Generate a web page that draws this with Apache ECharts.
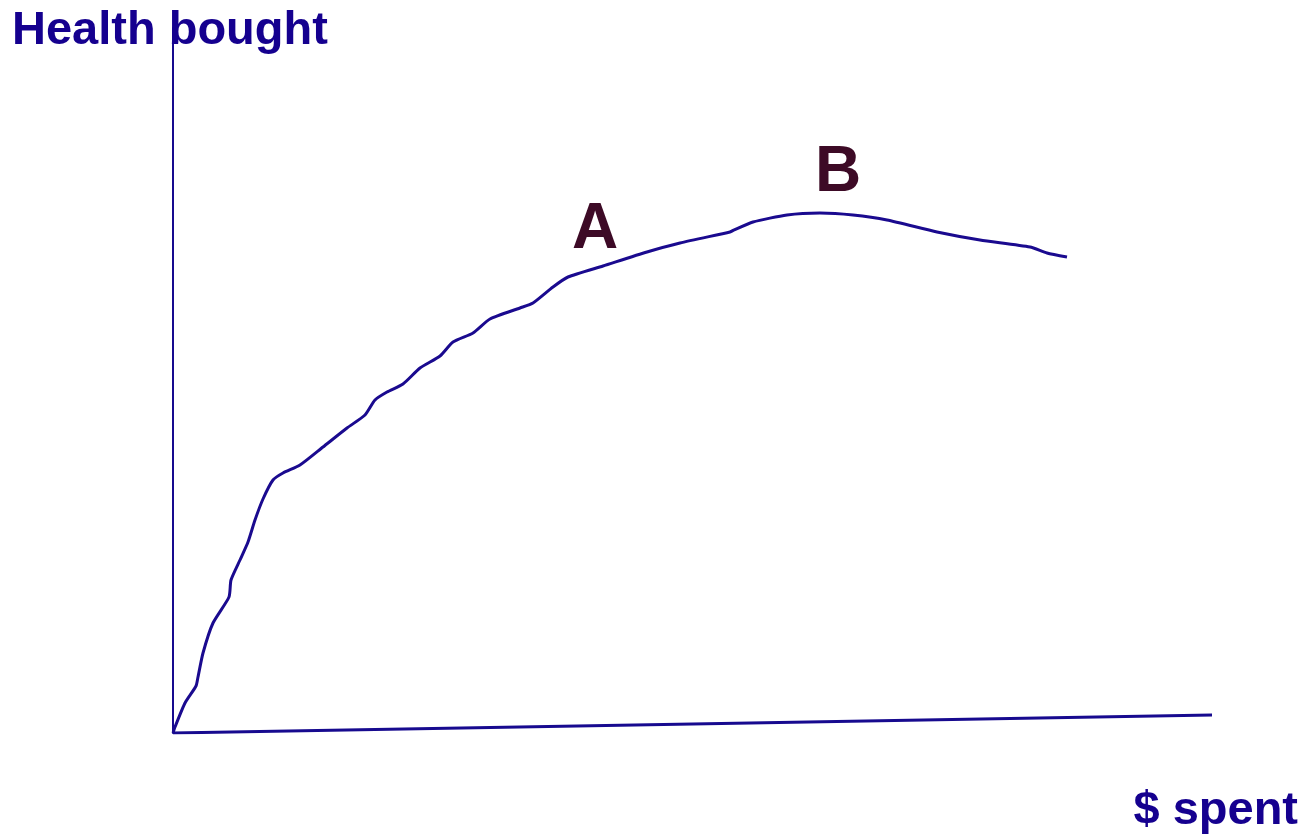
<!DOCTYPE html>
<html>
<head>
<meta charset="utf-8">
<script src="https://cdn.jsdelivr.net/npm/echarts@6/dist/echarts.min.js"></script>
<style>
html, body { margin: 0; padding: 0; background: #fff; }
#chart { width: 1306px; height: 839px; }
</style>
</head>
<body>
<div id="chart"></div>
<script>
// curve: spending (x) vs health bought (y), arbitrary units
var spent = [0, 2, 12, 23, 25, 30, 40, 56, 58, 67, 75, 82, 90, 100, 110, 127, 150, 174, 192, 202, 214, 230, 247, 267, 280, 300, 317, 347, 360, 380, 395, 430, 474, 507, 557, 559, 580, 614, 647, 680, 714, 764, 807, 857, 874, 894];
var health = [0, 6, 30, 47, 56, 80, 110, 136, 153, 173, 191, 213, 234, 253, 260, 268, 286, 305, 318, 333, 341, 349, 365, 377, 391, 400, 414, 425, 430, 446, 456, 467, 481, 490, 501, 502, 511, 518, 520, 518, 513, 501, 493, 486, 480, 476];
// slanted horizontal axis
var axisX = [0, 1039];
var axisY = [0, 18];
var marks = ['A', 'B'];
var markX = [422, 665];
var markY = [503, 560];

var chart = echarts.init(document.getElementById('chart'));
var curve = spent.map(function (x, i) { return [x, health[i]]; });
var base = axisX.map(function (x, i) { return [x, axisY[i]]; });
var pts = marks.map(function (m, i) { return { name: m, value: [markX[i], markY[i]] }; });

var option = {
    backgroundColor: '#fff',
    animation: false,
    title: [
        {
            text: 'Health bought', left: 12, top: 8, padding: 0,
            textStyle: { fontFamily: 'Liberation Sans', fontWeight: 'bold', fontSize: 47, color: '#15008f' }
        },
        {
            text: '$ spent', right: 8, top: 788, padding: 0,
            textStyle: { fontFamily: 'Liberation Sans', fontWeight: 'bold', fontSize: 47, color: '#15008f' }
        }
    ],
    grid: { left: 173, right: 94, top: 28, bottom: 106 },
    xAxis: {
        type: 'value', min: 0, max: 1039,
        axisLine: { show: false }, axisTick: { show: false }, axisLabel: { show: false }, splitLine: { show: false }
    },
    yAxis: {
        type: 'value', min: 0, max: 705,
        axisLine: { show: true, lineStyle: { color: '#170a8f', width: 2 } },
        axisTick: { show: false }, axisLabel: { show: false }, splitLine: { show: false }
    },
    series: [
        {
            type: 'line', data: base, symbol: 'none',
            lineStyle: { color: '#170a8f', width: 3 }
        },
        {
            type: 'line', data: curve, symbol: 'none', smooth: 0.2,
            lineStyle: { color: '#1a0a8f', width: 3 }
        },
        {
            type: 'scatter', data: pts, symbolSize: 0,
            itemStyle: { opacity: 1 },
            label: {
                show: true, position: 'inside', formatter: '{b}', opacity: 1,
                fontFamily: 'Liberation Sans', fontWeight: 'bold', fontSize: 64, color: '#3d0a26'
            }
        }
    ]
};
chart.setOption(option);
</script>
</body>
</html>
